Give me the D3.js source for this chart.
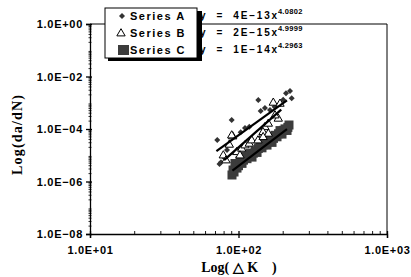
<!DOCTYPE html>
<html>
<head>
<meta charset="utf-8">
<script src="https://d3js.org/d3.v7.min.js"></script>
<style>
  body { margin: 0; background: #fff; }
  .tick-label { font-family: 'Liberation Sans', Arial, sans-serif; font-size: 11px; font-weight: bold; letter-spacing: 0.7px; fill: #000; }
  .axis-title { font-family: 'Liberation Serif', 'Times New Roman', serif; font-size: 14px; font-weight: bold; fill: #000; }
  .legend-text { font-family: 'Liberation Sans', Arial, sans-serif; font-size: 11px; font-weight: bold; letter-spacing: 1.5px; }
  .eq { font-family: 'Liberation Sans', Arial, sans-serif; font-size: 10px; font-weight: bold; letter-spacing: 1.8px; }
</style>
</head>
<body>
<script>
// data: [ΔK, da/dN]
const seriesA = [
  [71.9, 3.81e-5], [79.0, 8.8e-6], [76.2, 5.4e-6], [74.5, 4.6e-6], [90.0, 2.2e-4],
  [103.5, 7.5e-5], [135.9, 1.27e-3], [141.1, 4.85e-4], [118.2, 1.22e-4], [150.7, 6.3e-4],
  [222.3, 2.8e-3], [208.9, 2.29e-3], [228.1, 1.48e-3], [163.0, 5.3e-4], [190.3, 8.96e-4],
  [110.6, 1.09e-4], [83.7, 1.58e-5], [200.0, 1.3e-3], [175.0, 7.0e-4]
];
const seriesB = [
  [91.4, 5.41e-5], [86.7, 2.61e-5], [79.0, 1.02e-5], [97.3, 1.37e-5], [105.1, 1.84e-5],
  [110.6, 2.46e-5], [118.2, 2.85e-5], [122.7, 3.81e-5], [145.5, 5.9e-5], [150.7, 1.22e-4],
  [171.5, 1.04e-3], [190.3, 9.5e-4], [185.3, 2.56e-4], [158.8, 1.65e-4], [146.2, 7.9e-5],
  [102.3, 1.02e-5], [135.2, 3.81e-5], [158.8, 6.86e-5], [146.5, 5.1e-5], [90.0, 5.9e-5],
  [82.4, 6.6e-6], [176.1, 3.41e-4]
];
const seriesC = [
  [90.4, 1.77e-6], [93.3, 2.3e-6], [91.9, 2.74e-6], [94.7, 4.85e-6], [97.7, 3.24e-6],
  [100.0, 4.0e-6], [102.4, 6.1e-6], [105.6, 4.9e-6], [108.0, 6.5e-6], [110.6, 9.2e-6],
  [114.1, 7.4e-6], [117.0, 9.5e-6], [119.5, 1.16e-5], [123.3, 8.5e-6], [126.0, 1.2e-5],
  [129.2, 1.47e-5], [133.3, 1.28e-5], [136.0, 1.8e-5], [139.6, 2.41e-5], [143.9, 1.92e-5],
  [147.0, 2.5e-5], [150.8, 3.03e-5], [155.6, 2.44e-5], [159.0, 3.3e-5], [163.0, 3.85e-5],
  [168.2, 3.09e-5], [172.0, 4.4e-5], [176.1, 5.75e-5], [181.7, 5.05e-5], [186.0, 6.6e-5],
  [190.3, 8.7e-5], [196.3, 6.4e-5], [200.5, 8.9e-5], [205.7, 1.01e-4], [212.2, 8.8e-5],
  [218.8, 1.42e-4], [215.0, 1.15e-4]
];
// power-law trendlines y = a * x^b, drawn over xFrom..xTo
const trends = [
  { a: 4e-13, b: 4.0802, xFrom: 71, xTo: 212 },
  { a: 2e-15, b: 4.9999, xFrom: 80, xTo: 194 },
  { a: 1e-14, b: 4.2963, xFrom: 91, xTo: 212 }
];
const legendNames = ["Series A", "Series B", "Series C"];
const eqLabels = [["4E\u221213", "4.0802"], ["2E\u221215", "4.9999"], ["1E\u221214", "4.2963"]];
const xTicks = [10, 100, 1000];
const yTicks = [1, 1e-2, 1e-4, 1e-6, 1e-8];

const W = 411, H = 277;
const mLeft = 90, mRight = 387, mTop = 24, mBottom = 234;

const svg = d3.select("body").append("svg")
  .attr("width", W).attr("height", H);

const x = d3.scaleLog().domain([10, 1000]).range([mLeft, mRight]);
const y = d3.scaleLog().domain([1e-8, 1]).range([mBottom, mTop]);

const fmt = v => {
  const e = Math.round(Math.log10(v));
  return "1.0E" + (e < 0 ? "\u2212" : "+") + String(Math.abs(e)).padStart(2, "0");
};

// plot frame (top and right)
svg.append("path")
  .attr("d", `M${mLeft},${mTop}H${mRight}V${mBottom}`)
  .attr("fill", "none").attr("stroke", "#000").attr("stroke-width", 1);

// y axis
const yMinor = [];
for (let e = -8; e < 0; e++) for (let k = 2; k < 10; k++) yMinor.push(k * Math.pow(10, e));
const yAxis = d3.axisLeft(y).tickValues(yTicks).tickFormat(fmt).tickSize(4).tickPadding(3);
const yg = svg.append("g").attr("transform", `translate(${mLeft},0)`).call(yAxis);
yg.selectAll("text").attr("class", "tick-label");
yg.selectAll("line, path").attr("stroke", "#000").attr("stroke-width", 1.3);
yg.selectAll(".tick line").attr("x2", -4).attr("x1", 2);
svg.append("g").selectAll("line").data(yMinor).join("line")
  .attr("x1", mLeft - 1.5).attr("x2", mLeft + 1.5)
  .attr("y1", d => y(d)).attr("y2", d => y(d))
  .attr("stroke", "#000").attr("stroke-width", 0.8);

// x axis
const xMinor = [];
for (let e = 1; e < 3; e++) for (let k = 2; k < 10; k++) xMinor.push(k * Math.pow(10, e));
const xAxis = d3.axisBottom(x).tickValues(xTicks).tickFormat(fmt).tickSize(4).tickPadding(8);
const xg = svg.append("g").attr("transform", `translate(0,${mBottom})`).call(xAxis);
xg.selectAll("text").attr("class", "tick-label");
xg.selectAll("line, path").attr("stroke", "#000").attr("stroke-width", 1.3);
xg.selectAll(".tick line").attr("y1", -3).attr("y2", 4);
svg.append("g").selectAll("line").data(xMinor).join("line")
  .attr("x1", d => x(d)).attr("x2", d => x(d))
  .attr("y1", mBottom).attr("y2", mBottom - 3)
  .attr("stroke", "#000").attr("stroke-width", 0.9);

// axis titles
svg.append("text").attr("class", "axis-title")
  .attr("transform", `translate(22,${(mTop + mBottom) / 2 + 6}) rotate(-90)`)
  .attr("text-anchor", "middle").attr("textLength", 80).text("Log(da/dN)");
svg.append("text").attr("class", "axis-title")
  .attr("x", 239).attr("y", 272).attr("text-anchor", "middle")
  .attr("xml:space", "preserve").style("white-space", "pre")
  .text("Log( \u25B3 K    )");

// series C squares
svg.append("g").selectAll("rect").data(seriesC).join("rect")
  .attr("x", d => x(d[0]) - 4.5).attr("y", d => y(d[1]) - 4.5)
  .attr("width", 9).attr("height", 9).attr("fill", "#3c3c3c");

// series A diamonds
const diamond = d3.symbol().type(d3.symbolSquare).size(18);
svg.append("g").selectAll("path").data(seriesA).join("path")
  .attr("transform", d => `translate(${x(d[0])},${y(d[1])}) rotate(45)`)
  .attr("d", diamond).attr("fill", "#333");

// series B triangles
const tri = d3.symbol().type(d3.symbolTriangle).size(30);
svg.append("g").selectAll("path").data(seriesB).join("path")
  .attr("transform", d => `translate(${x(d[0])},${y(d[1]) + 0.5})`)
  .attr("d", tri).attr("fill", "#fff").attr("stroke", "#000").attr("stroke-width", 1);

// trendlines
const line = d3.line().x(d => x(d[0])).y(d => y(d[1]));
trends.forEach(t => {
  const pts = [t.xFrom, t.xTo].map(v => [v, t.a * Math.pow(v, t.b)]);
  svg.append("path").attr("d", line(pts))
    .attr("fill", "none").attr("stroke", "#000").attr("stroke-width", 2.2);
});

// trendline equations
const eqY = [15, 32, 49];
eqLabels.forEach((e, i) => {
  const t = svg.append("text").attr("class", "eq").attr("y", eqY[i] + 4)
    .attr("xml:space", "preserve").style("white-space", "pre");
  t.append("tspan").attr("x", 200).text(`y  =  ${e[0]}x`);
  t.append("tspan").attr("dx", -1).attr("dy", -5).attr("font-size", 7.5)
    .style("letter-spacing", "0.3px").text(e[1]);
});

// legend box with shadow
svg.append("rect").attr("x", 108).attr("y", 11).attr("width", 94).attr("height", 50).attr("fill", "#000");
svg.append("rect").attr("x", 105).attr("y", 8).attr("width", 92).attr("height", 50)
  .attr("fill", "#fff").attr("stroke", "#000").attr("stroke-width", 1);
const legY = [16, 33, 50];
legendNames.forEach((n, i) => {
  svg.append("text").attr("class", "legend-text").attr("x", 130).attr("y", legY[i] + 4).text(n);
});
svg.append("path").attr("transform", `translate(122,${legY[0]}) rotate(45)`)
  .attr("d", diamond).attr("fill", "#333");
svg.append("path").attr("transform", `translate(121,${legY[1] + 0.5})`)
  .attr("d", tri).attr("fill", "#fff").attr("stroke", "#000");
svg.append("rect").attr("x", 118).attr("y", legY[2] - 5).attr("width", 11).attr("height", 10).attr("fill", "#3c3c3c");
</script>
</body>
</html>
